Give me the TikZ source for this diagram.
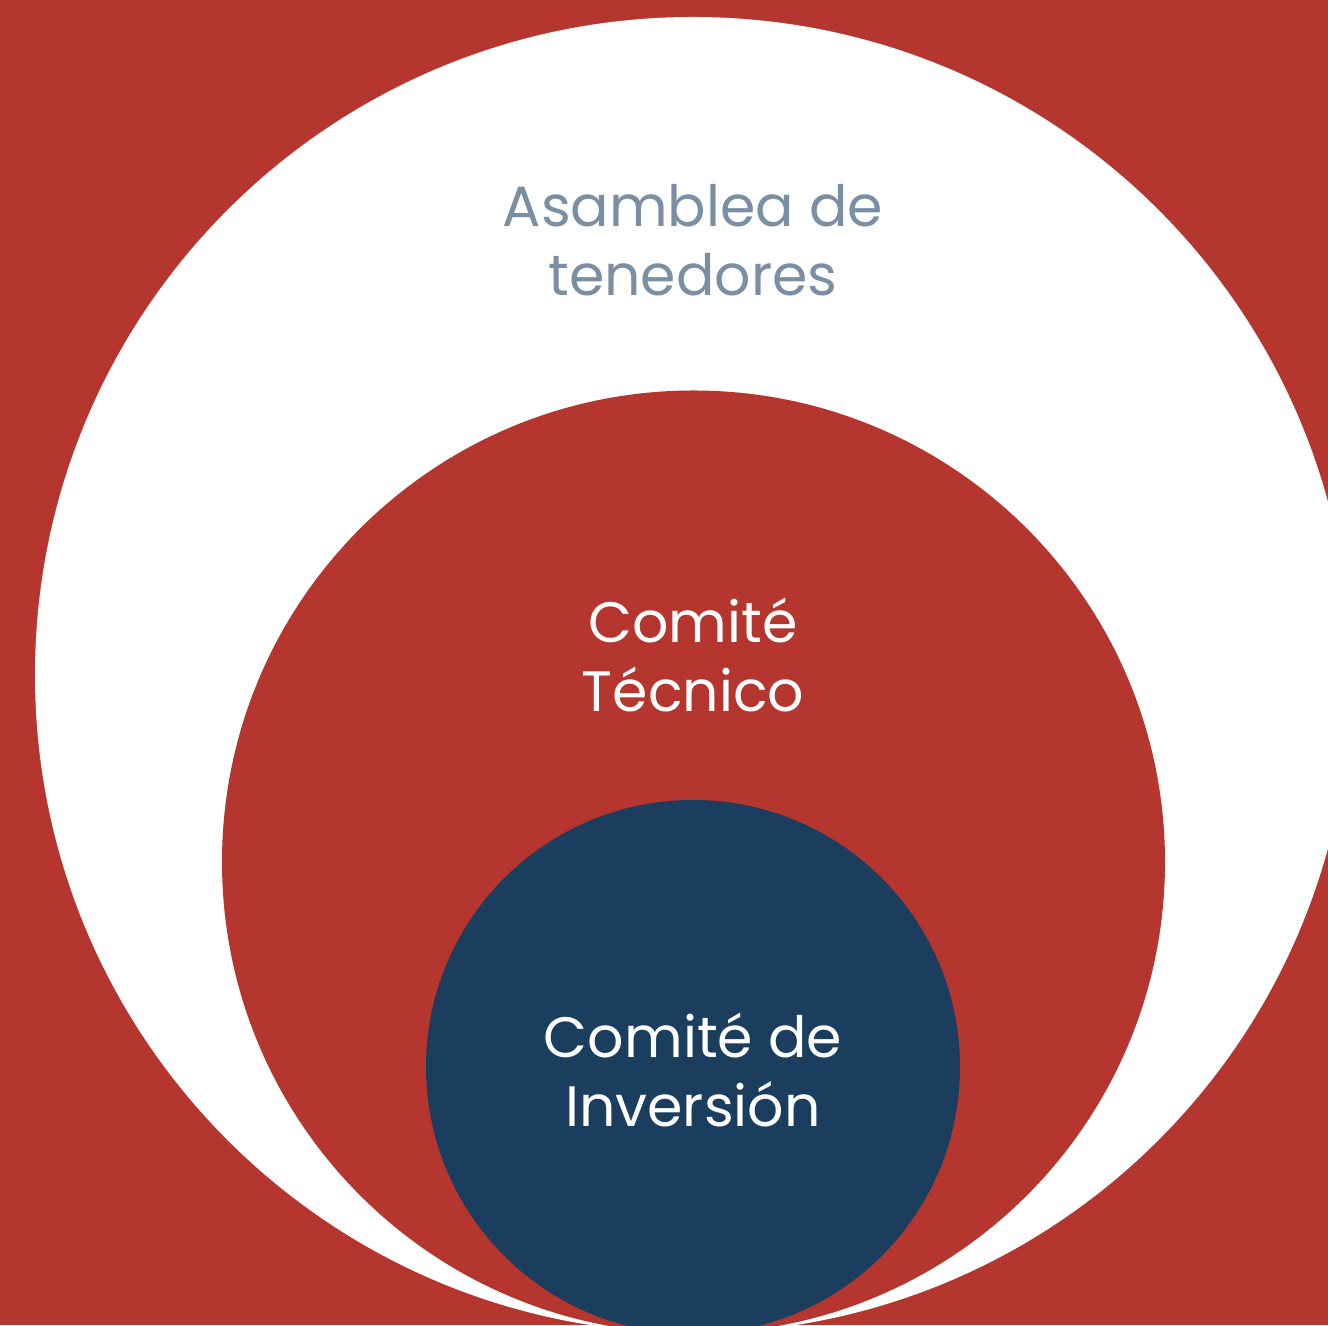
\documentclass[tikz,border=0pt]{standalone}
\usepackage{fontspec}
\setmainfont{Poppins}
\usetikzlibrary{positioning}

\definecolor{fondo}{HTML}{B5352F}
\definecolor{azul}{HTML}{1B3D5E}
\definecolor{grisazul}{HTML}{7A8FA3}

\begin{document}
\begin{tikzpicture}[
    ring/.style={circle, inner sep=0pt, outer sep=0pt},
    label/.style={align=center, font=\fontsize{16.2}{19.6}\selectfont},
]

% === BACKGROUND ===
\fill[fondo] (0,0) rectangle (13.28,13.25);
\useasboundingbox (0,0) rectangle (13.28,13.25);

% === CIRCLES ===
\node[ring, fill=white, minimum size=13.16cm] (asamblea) at (6.93,6.50) {};
\node[ring, fill=fondo, minimum size=9.43cm] (tecnico) at (6.935,4.63) {};
\node[ring, fill=azul, minimum size=5.34cm] (inversion) at (6.93,2.58) {};

% === LABELS ===
\node[label, text=grisazul] (asamblea_txt) at (6.93,10.85) {Asamblea de\\tenedores};
\node[label, text=white] (tecnico_txt) at (6.93,6.70) {Comité\\Técnico};
\node[label, text=white] (inversion_txt) at (6.93,2.55) {Comité de\\Inversión};

\end{tikzpicture}
\end{document}
